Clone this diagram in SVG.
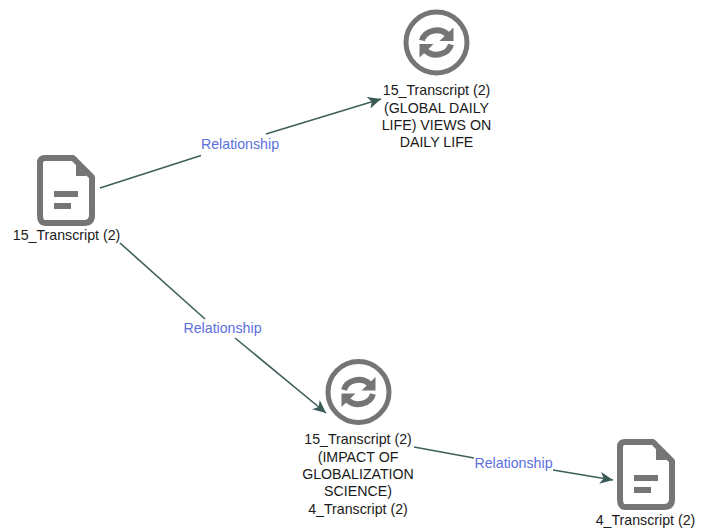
<svg xmlns="http://www.w3.org/2000/svg" width="705" height="528" viewBox="0 0 705 528">
<style>
text{font-family:"Liberation Sans",Arial,sans-serif;font-size:14.2px;text-anchor:middle;fill:#1a1a1a}
.rel{fill:#5b70e0}
.edge{fill:none;stroke:#3f5f5c;stroke-width:1.6}
.ic{fill:none;stroke:#757575;stroke-width:6;stroke-linejoin:round}
.bar{fill:#757575}
.ring{fill:none;stroke:#757575;stroke-width:5}
.arc{fill:none;stroke:#757575;stroke-width:6}
</style>
<defs>
<marker id="ah" markerUnits="userSpaceOnUse" markerWidth="14" markerHeight="12" refX="13" refY="6" orient="auto">
<path d="M0 0L13 6L0 12L3.500 6Z" fill="#3a5a58"/>
</marker>
<g id="doc">
<path class="ic" d="M8 3H36L55 22V60Q55 68 47 68H8Q3 68 3 60V8Q3 3 8 3Z"/>
<path class="bar" d="M39 9L50 21H39Z"/>
<rect class="bar" x="17" y="36" width="24" height="6"/>
<rect class="bar" x="17" y="48" width="17" height="6"/>
</g>
<g id="sync">
<circle class="ring" r="30.500"/>
<path class="arc" d="M-14.500 -2A15 13 0 0 1 11 -8"/>
<path class="bar" d="M3 -1.500H17V-15Z"/>
<path class="arc" d="M14.500 2A15 13 0 0 1 -11 8"/>
<path class="bar" d="M-3 1.500H-17V15Z"/>
</g>
</defs>
<g id="connectors">
<path class="edge" d="M100 188L201 155.500"/>
<path class="edge" marker-end="url(#ah)" d="M266 134L381 99"/>
<path class="edge" d="M120 243L205 319"/>
<path class="edge" marker-end="url(#ah)" d="M235 338L326 413"/>
<path class="edge" d="M414 447L474 458"/>
<path class="edge" marker-end="url(#ah)" d="M553 470L613 480"/>
<text class="rel" x="240" y="149">Relationship</text>
<text class="rel" x="222.500" y="333">Relationship</text>
<text class="rel" x="513.500" y="468">Relationship</text>
</g>
<g id="node-transcript15">
<use href="#doc" x="37" y="155"/>
<text x="66.500" y="240">15_Transcript (2)</text>
</g>
<g id="node-global">
<use href="#sync" x="436.500" y="42.500"/>
<text x="436.500" y="95">15_Transcript (2)</text>
<text x="436.500" y="113">(GLOBAL DAILY</text>
<text x="436.500" y="130">LIFE) VIEWS ON</text>
<text x="436.500" y="147">DAILY LIFE</text>
</g>
<g id="node-impact">
<use href="#sync" x="358.500" y="392"/>
<text x="358" y="444">15_Transcript (2)</text>
<text x="358" y="462">(IMPACT OF</text>
<text x="358" y="479">GLOBALIZATION</text>
<text x="358" y="496">SCIENCE)</text>
<text x="358" y="514">4_Transcript (2)</text>
</g>
<g id="node-transcript4">
<use href="#doc" x="617" y="439"/>
<text x="645.500" y="524.500">4_Transcript (2)</text>
</g>
</svg>
